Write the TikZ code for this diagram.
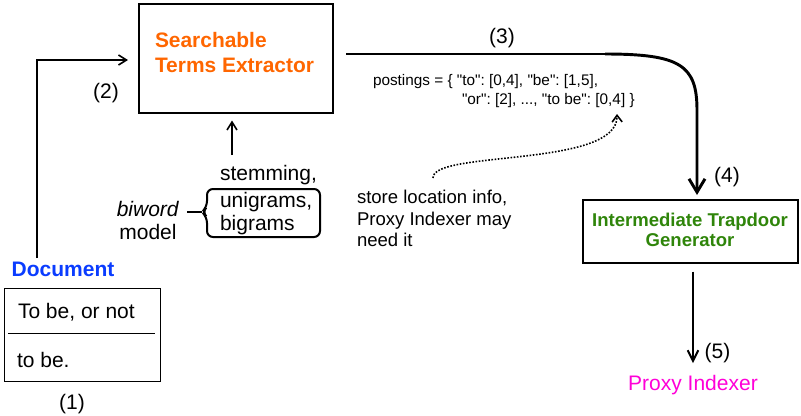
\documentclass[tikz,border=0pt]{standalone}
\usepackage{fontspec}
\setmainfont{Liberation Sans}
\newfontfamily\postfont{Liberation Sans}
\usetikzlibrary{arrows.meta}
\definecolor{steorange}{HTML}{FF6600}
\definecolor{docblue}{HTML}{0A3CFF}
\definecolor{tggreen}{HTML}{2F850A}
\definecolor{pimag}{HTML}{FF00D8}
\frenchspacing
\begin{document}
\begin{tikzpicture}[x=0.75pt,y=-0.75pt,
  every node/.style={inner sep=0pt, outer sep=0pt},
  lbl/.style={font=\fontsize{15.75}{17.25}\selectfont},
  boxthick/.style={draw, line width=1.5pt},
  thinarrow/.style={line width=1.2pt, -{Straight Barb[length=6pt,width=7.5pt]}},
]
\useasboundingbox (0,0) rectangle (801,415);

% Searchable Terms Extractor
\node[boxthick, minimum width=145.5pt, minimum height=81.75pt] (ste) at (236,58.5) {};
\node[anchor=north west, align=left, text=steorange, font=\bfseries\fontsize{15.7}{19.1}\selectfont] (stetext) at (155,32.2) {Searchable\\Terms Extractor};

% Intermediate Trapdoor Generator
\node[boxthick, minimum width=161.25pt, minimum height=47.25pt] (tg) at (690.5,231.5) {};
\node[anchor=north, align=center, text=tggreen, font=\bfseries\fontsize{13.9}{15.5}\selectfont] (tgtext) at (690,212.7) {Intermediate Trapdoor\\Generator};

% Proxy Indexer
\node[font=\fontsize{15.75}{17}\selectfont, text=pimag, anchor=base] (pi) at (693,390) {Proxy Indexer};

% Document
\node[font=\bfseries\fontsize{15.75}{17}\selectfont, text=docblue] (doc) at (63,269) {Document};
\node[draw, line width=0.75pt, minimum width=117pt, minimum height=69.75pt] (docbox) at (82,334.5) {};
\draw[line width=0.75pt] ([shift={(4,-1.5)}]docbox.west) -- ([shift={(-5,-1.5)}]docbox.east);
\node[lbl, anchor=base west] (l1) at (18,318) {To be, or not};
\node[lbl, anchor=base west] (l2) at (17,367) {to be.};
\node[lbl] (n1) at (72,404) {(1)};

% arrow (2)
\coordinate (docup) at (37,258);
\draw[thinarrow] (docup) |- ([shift={(-11,1.5)}]ste.west);
\node[lbl] (n2) at (106,93.5) {(2)};

% stemming
\node[lbl, anchor=base west] (stem) at (220,180) {stemming,};
\draw[thinarrow] ([shift={(12,-25)}]stem.base west) -- ([shift={(-4,7.5)}]ste.south);

% unigrams / bigrams bracket box
\node[lbl, anchor=north west, align=left] (ub) at (220,191.9) {unigrams,\\bigrams};
\draw[line width=1.5pt, rounded corners=4.5pt] (202,212) -- (207,207) -- (207,189) -- (320,189) -- (320,237) -- (207,237) -- (207,217) -- cycle;

% biword model
\node[lbl, anchor=north, align=center] (biw) at (148,201) {\textit{biword}\\model};
\coordinate (biwend) at (187,212);
\coordinate (brtip) at (202,212);
\draw[line width=1.5pt] (biwend) -- (brtip);

% arrow (3)/(4)
\coordinate (p3m) at (605,54);
\draw[line width=1.2pt] ([shift={(13,-4.5)}]ste.east) -- (p3m);
\draw[line width=2.2pt, -{Straight Barb[length=10pt,width=12pt]}] (p3m) .. controls (680,54) and (697,65) .. (697,110) -- ([shift={(6.5,-5)}]tg.north);
\node[lbl] (n3) at (502,38) {(3)};
\node[lbl] (n4) at (727,177) {(4)};

% postings
\node[anchor=base west, font=\postfont\fontsize{11.5}{13}\selectfont] (post1) at (373,85) {postings = \{ "to": [0,4], "be": [1,5],};
\node[anchor=base west, font=\postfont\fontsize{11.5}{13}\selectfont] (post2) at (462,104) {"or": [2], ..., "to be": [0,4] \}};

% store location note + dotted arrow
\node[anchor=north west, align=left, font=\fontsize{13.9}{16}\selectfont] (store) at (357,190.5) {store location info,\\Proxy Indexer may\\need it};
\coordinate (dotstart) at (433,178);
\coordinate (dotend) at (617,114);
\draw[line width=1.2pt, dash pattern=on 1.2pt off 1.2pt, -{Straight Barb[length=5pt,width=7.5pt]}] (dotstart) .. controls (432,150) and (618,168) .. (dotend);

% arrow (5)
\draw[line width=1.5pt, -{Straight Barb[length=8pt,width=8pt]}] ([shift={(2.5,8.5)}]tg.south) -- ([shift={(0,-11.7)}]pi.north);
\node[lbl] (n5) at (717.5,353.5) {(5)};
\end{tikzpicture}
\end{document}
